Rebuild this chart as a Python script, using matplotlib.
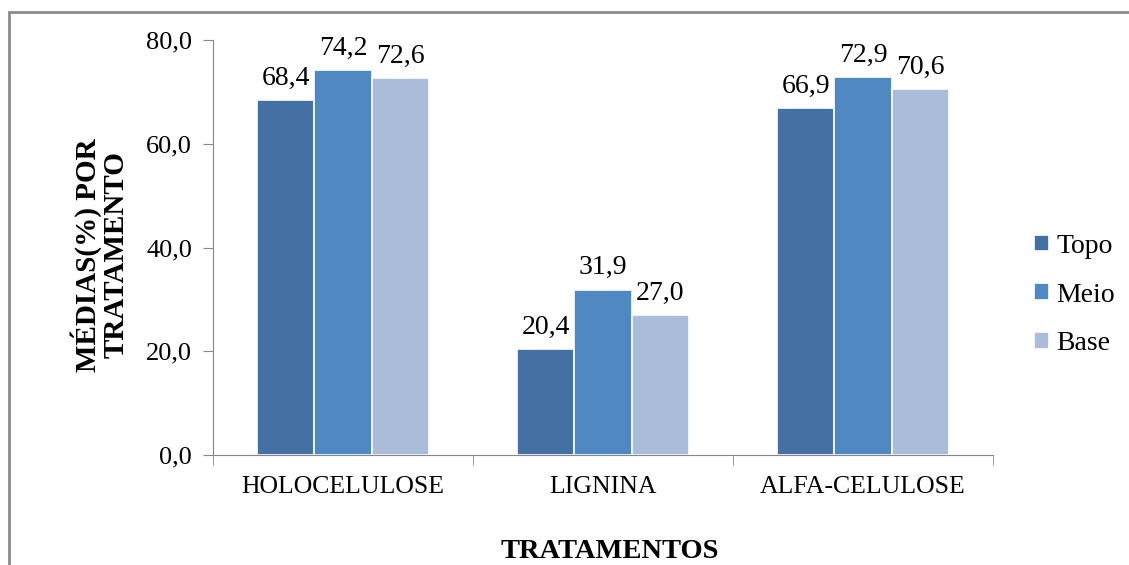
import matplotlib
matplotlib.use("Agg")
import matplotlib.pyplot as plt
import numpy as np
from matplotlib.patches import Rectangle

# médias por tratamento e posição no fuste
tratamentos = ["HOLOCELULOSE", "LIGNINA", "ALFA-CELULOSE"]
topo = [68.4, 20.4, 66.9]
meio = [74.2, 31.9, 72.9]
base = [72.6, 27.0, 70.6]
series = [("Topo", topo, "#4470A3"), ("Meio", meio, "#5088C2"), ("Base", base, "#AABCD9")]
yticks = [0, 20, 40, 60, 80]

plt.rcParams["font.family"] = ["Liberation Serif", "DejaVu Serif"]

fig = plt.figure(figsize=(11.29, 5.65), dpi=100)
ax = fig.add_axes([213 / 1129, 1 - 455 / 565, 780 / 1129, 415 / 565])

# moldura cinza do gráfico
fig.patches.append(Rectangle((9 / 1129, -0.05), 1.2, 1 - 12 / 565 + 0.05,
                             transform=fig.transFigure, fill=False,
                             edgecolor="#8C8C8C", linewidth=2))

x = np.arange(len(tratamentos))
w = 0.22
for i, (nome, vals, cor) in enumerate(series):
    pos = x + (i - 1) * w
    bars = ax.bar(pos, vals, width=w, color=cor, edgecolor="white",
                  linewidth=1.2, label=nome)
    for b, v in zip(bars, vals):
        ax.text(b.get_x() + b.get_width() / 2, v + 1.8, f"{v:.1f}".replace(".", ","),
                ha="center", va="bottom", fontsize=20)

ax.set_xlim(-0.5, len(tratamentos) - 0.5)
ax.set_ylim(0, 80)
ax.set_yticks(yticks)
ax.set_yticklabels([f"{t:.1f}".replace(".", ",") for t in yticks], fontsize=19)
ax.set_xticks(x)
ax.set_xticklabels(tratamentos, fontsize=18.5)
ax.tick_params(axis="x", length=0, pad=15)
ax.tick_params(axis="y", length=7, color="#868686", pad=8)
ax.set_xticks(np.arange(len(tratamentos) + 1) - 0.5, minor=True)
ax.tick_params(axis="x", which="minor", length=7, color="#868686")

for s in ["top", "right"]:
    ax.spines[s].set_visible(False)
for s in ["left", "bottom"]:
    ax.spines[s].set_color("#868686")

fig.text(610 / 1129, 1 - 551 / 565, "TRATAMENTOS", ha="center", va="center",
         fontsize=20.5, fontweight="bold")
fig.text(100 / 1129, 1 - 255 / 565, "MÉDIAS(%) POR\nTRATAMENTO", ha="center",
         va="center", rotation=90, fontsize=21, fontweight="bold", linespacing=1.0)

fig.legend(loc="center left", bbox_to_anchor=(1009 / 1129, 1 - 295 / 565),
           frameon=False, fontsize=20, handlelength=0.55, handleheight=0.55,
           handletextpad=0.25, labelspacing=0.85)

fig.savefig("out.png", dpi=100)
